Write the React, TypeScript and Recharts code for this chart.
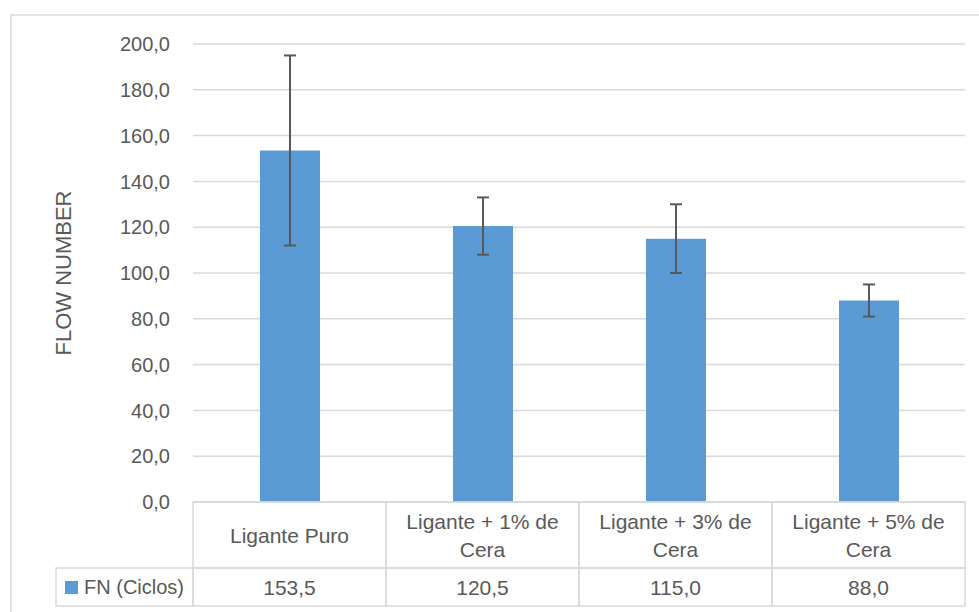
import React from 'react';
import { BarChart, Bar, XAxis, YAxis, CartesianGrid, ErrorBar } from 'recharts';

// FN (Ciclos) por teor de cera
const categories = ['Ligante Puro', 'Ligante + 1% de Cera', 'Ligante + 3% de Cera', 'Ligante + 5% de Cera'];
const fnValues = [153.5, 120.5, 115.0, 88.0];
const fnErrors = [41.5, 12.5, 15.0, 7.0];
const yTicks = [0, 20, 40, 60, 80, 100, 120, 140, 160, 180, 200];
const seriesName = 'FN (Ciclos)';

const data = categories.map((name, i) => ({ name, fn: fnValues[i], err: fnErrors[i] }));

const W = 979;
const H = 612;
const PLOT_LEFT = 193;
const PLOT_RIGHT = 965;
const PLOT_TOP = 44;
const PLOT_BOTTOM = 502;
const ROW1 = 66;
const ROW2 = 38;
const CELL = (PLOT_RIGHT - PLOT_LEFT) / categories.length;
const FONT = '"Liberation Sans", Arial, sans-serif';
const TEXT = '#595959';
const LINE = '#d9d9d9';
const BLUE = '#5b9bd5';

const fmt = (v: number) => v.toFixed(1).replace('.', ',');

// break long labels into two lines like Excel does
function wrap(label: string): string[] {
  if (label.length <= 14) return [label];
  const cut = label.lastIndexOf(' ');
  return [label.slice(0, cut), label.slice(cut + 1)];
}

function TableTick(props: any) {
  const { x, index, payload } = props;
  const lines = wrap(payload.value);
  const left = x - CELL / 2;
  const r1 = PLOT_BOTTOM;
  const r2 = PLOT_BOTTOM + ROW1;
  const midY = r1 + ROW1 / 2;
  return (
    <g>
      <rect x={left} y={r1} width={CELL} height={ROW1} fill="none" stroke={LINE} strokeWidth={1.5} />
      <rect x={left} y={r2} width={CELL} height={ROW2} fill="none" stroke={LINE} strokeWidth={1.5} />
      {lines.map((ln, i) => (
        <text
          key={i}
          x={x}
          y={midY + (i - (lines.length - 1) / 2) * 28}
          textAnchor="middle"
          dominantBaseline="central"
          fontFamily={FONT}
          fontSize={21}
          fill={TEXT}
        >
          {ln}
        </text>
      ))}
      <text x={x} y={r2 + ROW2 / 2} textAnchor="middle" dominantBaseline="central" fontFamily={FONT} fontSize={21} fill={TEXT}>
        {fmt(fnValues[index])}
      </text>
      {index === 0 && (
        <g>
          <rect x={56} y={r2} width={PLOT_LEFT - 56} height={ROW2} fill="none" stroke={LINE} strokeWidth={1.5} />
          <rect x={65} y={r2 + 13} width={13} height={13} fill={BLUE} />
          <text x={84} y={r2 + ROW2 / 2} dominantBaseline="central" fontFamily={FONT} fontSize={20} fill={TEXT}>
            {seriesName}
          </text>
        </g>
      )}
    </g>
  );
}

export default function App() {
  return (
    <div style={{ position: 'absolute', left: 0, top: 0, width: W, height: H, background: '#fff' }}>
      <svg style={{ position: 'absolute', left: 0, top: 0 }} width={W} height={H}>
        <rect x={11} y={15} width={W} height={H} fill="none" stroke={LINE} strokeWidth={1.5} />
      </svg>
      <div style={{ position: 'absolute', left: 0, top: 0 }}>
        <BarChart
          width={W}
          height={H}
          data={data}
          margin={{ top: PLOT_TOP, right: W - PLOT_RIGHT, bottom: H - PLOT_BOTTOM - 104, left: 0 }}
          barSize={60}
        >
          <CartesianGrid vertical={false} stroke={LINE} strokeWidth={1.5} />
          <YAxis
            width={PLOT_LEFT}
            domain={[0, 200]}
            ticks={yTicks}
            tickFormatter={fmt}
            axisLine={false}
            tickLine={false}
            tickMargin={17}
            tick={{ fill: TEXT, fontSize: 20, fontFamily: FONT }}
            label={{
              value: 'FLOW NUMBER',
              angle: -90,
              position: 'insideLeft',
              offset: 63,
              style: { fill: TEXT, fontSize: 22, fontFamily: FONT, textAnchor: 'middle' },
            }}
          />
          <XAxis
            dataKey="name"
            height={104}
            axisLine={{ stroke: LINE, strokeWidth: 1.5 }}
            tickLine={false}
            tick={<TableTick />}
            interval={0}
          />
          <Bar dataKey="fn" name={seriesName} fill={BLUE} isAnimationActive={false}>
            <ErrorBar dataKey="err" width={6} strokeWidth={2} stroke="#595959" direction="y" />
          </Bar>
        </BarChart>
      </div>
    </div>
  );
}
